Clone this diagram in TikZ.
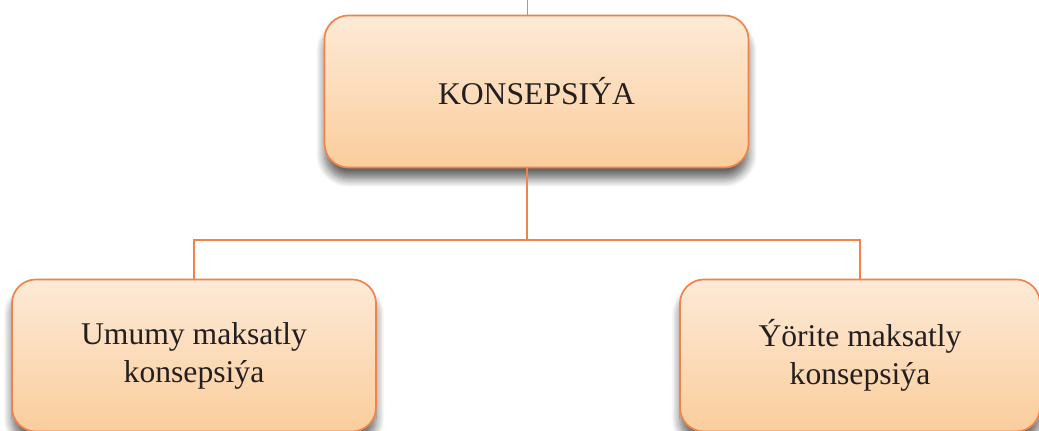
\documentclass[tikz,border=0pt]{standalone}
\usepackage{fontspec}
\setmainfont{Liberation Serif}
\usepackage{tikz}
\usetikzlibrary{shadows.blur}
\definecolor{boxline}{RGB}{240,131,74}
\definecolor{boxtop}{RGB}{253,234,214}
\definecolor{boxbottom}{RGB}{250,205,156}
\definecolor{ink}{RGB}{35,31,32}
\tikzset{
	conceptbox/.style={draw=boxline,line width=1.2pt,rounded corners=0.6cm,
		top color=boxtop,bottom color=boxbottom,text=ink,align=center,
		minimum width=10.6cm,minimum height=3.8cm,
		font=\fontsize{22.5}{27}\selectfont,
		blur shadow={shadow xshift=0pt,shadow yshift=-8pt,shadow blur steps=10,shadow blur radius=6pt,shadow opacity=60}},
	link/.style={draw=boxline,line width=1.2pt}
}
\begin{document}
\begin{tikzpicture}[x=0.025cm,y=-0.025cm]
	\useasboundingbox (0,0) rectangle (1039,431);
	\node[conceptbox] (konsepsiya) at (536.5,91.5) {KONSEPSIÝA};
	\node[conceptbox,minimum width=9.1cm] (umumy) at (194,355.5) {Umumy maksatly\\konsepsiýa};
	\node[conceptbox,minimum width=9cm] (yorite) at (860,355.5) {Ýörite maksatly\\konsepsiýa};
	\coordinate (stub) at (527,0);
	\coordinate (trunk) at (527,240);
	\draw[link,line width=0.6pt] (stub) -- (stub |- konsepsiya.north);
	\draw[link] (konsepsiya.south -| trunk) -- (trunk);
	\draw[link] (umumy.north) -- (umumy.north |- trunk) -- (yorite.north |- trunk) -- (yorite.north);
\end{tikzpicture}
\end{document}
